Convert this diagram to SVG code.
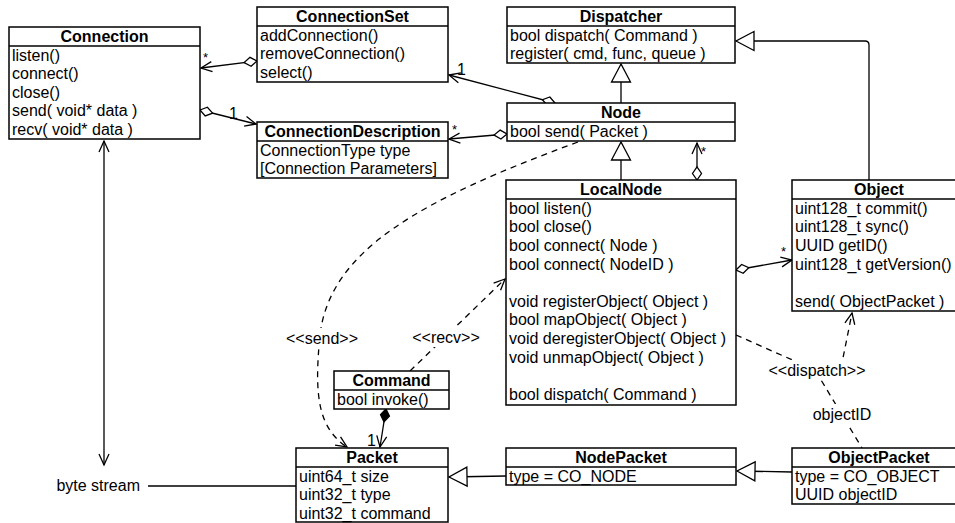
<svg xmlns="http://www.w3.org/2000/svg" width="955" height="523" viewBox="0 0 955 523">
<defs>
<style>
.t{font-family:"Liberation Sans",Arial,Helvetica,sans-serif;font-size:16px;fill:#000}
.h{font-weight:bold;text-anchor:middle}
.m{font-size:13px}
.box rect{fill:#fff;stroke:#000;stroke-width:1.5}
.box line{stroke:#000;stroke-width:1.5}
.c{stroke:#000;stroke-width:1.3;fill:none}
.d{stroke-dasharray:6 5}
.lbl{fill:#fff;stroke:none}
</style>
<marker id="arr" markerUnits="userSpaceOnUse" markerWidth="14" markerHeight="14" viewBox="-12 -7 14 14" refX="0" refY="0" orient="auto-start-reverse">
<path d="M-11,-5 L0,0 L-11,5" fill="none" stroke="#000" stroke-width="1.3"/>
</marker>
<marker id="tri" markerUnits="userSpaceOnUse" markerWidth="22" markerHeight="22" viewBox="-20 -11 22 22" refX="0" refY="0" orient="auto">
<polygon points="0,0 -18,-9.5 -18,9.5" fill="#fff" stroke="#000" stroke-width="1.3"/>
</marker>
<marker id="dia" markerUnits="userSpaceOnUse" markerWidth="16" markerHeight="12" viewBox="-1 -6 16 12" refX="0" refY="0" orient="auto">
<polygon points="0,0 6.5,-4.5 13,0 6.5,4.5" fill="#fff" stroke="#000" stroke-width="1.3"/>
</marker>
<marker id="fdia" markerUnits="userSpaceOnUse" markerWidth="16" markerHeight="12" viewBox="-1 -6 16 12" refX="0" refY="0" orient="auto">
<polygon points="0,0 6.5,-4.5 13,0 6.5,4.5" fill="#000" stroke="#000" stroke-width="1.3"/>
</marker>
</defs>
<rect width="955" height="523" fill="#fff"/>

<g id="connectors">
<path class="c" d="M257,61 L201,68" marker-start="url(#dia)" marker-end="url(#arr)"/>
<path class="c" d="M200,110 L256,124" marker-start="url(#dia)" marker-end="url(#arr)"/>
<path class="c" d="M555,103 L449,75" marker-start="url(#dia)" marker-end="url(#arr)"/>
<path class="c" d="M507,134 L449,139" marker-start="url(#dia)" marker-end="url(#arr)"/>
<path class="c" d="M697,180 L697,143" marker-start="url(#dia)" marker-end="url(#arr)"/>
<path class="c" d="M736,270 L792,260" marker-start="url(#dia)" marker-end="url(#arr)"/>
<path class="c" d="M621,103 L621,64" marker-end="url(#tri)"/>
<path class="c" d="M621,180 L621,142" marker-end="url(#tri)"/>
<path class="c" d="M869,180 L869,45 Q869,41 865,41 L736,41" marker-end="url(#tri)"/>
<path class="c" d="M506,476 L449,477" marker-end="url(#tri)"/>
<path class="c" d="M792,472 L737,471" marker-end="url(#tri)"/>
<path class="c" d="M104,141 L104,465" marker-start="url(#arr)" marker-end="url(#arr)"/>
<path class="c" d="M148,486 L296,486"/>
<path class="c" d="M386,409 L380,447" marker-start="url(#fdia)" marker-end="url(#arr)"/>
<path class="c d" d="M578,142 C420,200 330,250 320,335 C314,395 318,428 347,447" marker-end="url(#arr)"/>
<path class="c d" d="M410,371 L505,279" marker-end="url(#arr)"/>
<path class="c d" d="M736,335 L815,370 L862,448"/>
<path class="c d" d="M841,368 L852,313" marker-end="url(#arr)"/>
<rect class="lbl" x="284" y="328" width="76" height="20"/>
<text class="t" x="322" y="344" text-anchor="middle">&lt;&lt;send&gt;&gt;</text>
<rect class="lbl" x="410" y="327" width="72" height="20"/>
<text class="t" x="446" y="343" text-anchor="middle">&lt;&lt;recv&gt;&gt;</text>
<rect class="lbl" x="766" y="360" width="103" height="20"/>
<text class="t" x="817" y="376" text-anchor="middle">&lt;&lt;dispatch&gt;&gt;</text>
<rect class="lbl" x="811" y="404" width="63" height="20"/>
<text class="t" x="842" y="420" text-anchor="middle">objectID</text>
<text class="t" x="140" y="491" text-anchor="end">byte stream</text>
<text class="t m" x="203" y="62">*</text>
<text class="t" x="229" y="119">1</text>
<text class="t" x="457" y="75">1</text>
<text class="t m" x="452" y="134">*</text>
<text class="t m" x="701" y="156">*</text>
<text class="t m" x="781" y="256">*</text>
<text class="t" x="367" y="446">1</text>
</g>

<g id="Connection" class="box">
<rect x="9" y="27" width="191" height="112"/>
<line x1="9" y1="46" x2="200" y2="46"/>
<text class="t h" x="104.5" y="42">Connection</text>
<text class="t" x="12" y="61">listen()</text>
<text class="t" x="12" y="79">connect()</text>
<text class="t" x="12" y="98">close()</text>
<text class="t" x="12" y="116">send( void* data )</text>
<text class="t" x="12" y="135">recv( void* data )</text>
</g>

<g id="ConnectionSet" class="box">
<rect x="257" y="7" width="191" height="75"/>
<line x1="257" y1="26" x2="448" y2="26"/>
<text class="t h" x="352.5" y="22">ConnectionSet</text>
<text class="t" x="260" y="41">addConnection()</text>
<text class="t" x="260" y="59">removeConnection()</text>
<text class="t" x="260" y="78">select()</text>
</g>

<g id="ConnectionDescription" class="box">
<rect x="257" y="122" width="191" height="56"/>
<line x1="257" y1="141" x2="448" y2="141"/>
<text class="t h" x="352.5" y="137">ConnectionDescription</text>
<text class="t" x="260" y="156">ConnectionType type</text>
<text class="t" x="260" y="174">[Connection Parameters]</text>
</g>

<g id="Dispatcher" class="box">
<rect x="507" y="7" width="228" height="56"/>
<line x1="507" y1="26" x2="735" y2="26"/>
<text class="t h" x="621" y="22">Dispatcher</text>
<text class="t" x="510" y="41">bool dispatch( Command )</text>
<text class="t" x="510" y="59">register( cmd, func, queue )</text>
</g>

<g id="Node" class="box">
<rect x="507" y="103" width="228" height="38"/>
<line x1="507" y1="122" x2="735" y2="122"/>
<text class="t h" x="621" y="118">Node</text>
<text class="t" x="510" y="137">bool send( Packet )</text>
</g>

<g id="LocalNode" class="box">
<rect x="506" y="180" width="230" height="225"/>
<line x1="506" y1="199" x2="736" y2="199"/>
<text class="t h" x="621" y="195">LocalNode</text>
<text class="t" x="509" y="214">bool listen()</text>
<text class="t" x="509" y="232">bool close()</text>
<text class="t" x="509" y="251">bool connect( Node )</text>
<text class="t" x="509" y="270">bool connect( NodeID )</text>
<text class="t" x="509" y="307">void registerObject( Object )</text>
<text class="t" x="509" y="325">bool mapObject( Object )</text>
<text class="t" x="509" y="344">void deregisterObject( Object )</text>
<text class="t" x="509" y="363">void unmapObject( Object )</text>
<text class="t" x="509" y="400">bool dispatch( Command )</text>
</g>

<g id="Object" class="box">
<rect x="792" y="180" width="174" height="131"/>
<line x1="792" y1="199" x2="966" y2="199"/>
<text class="t h" x="879" y="195">Object</text>
<text class="t" x="795" y="214">uint128_t commit()</text>
<text class="t" x="795" y="232">uint128_t sync()</text>
<text class="t" x="795" y="251">UUID getID()</text>
<text class="t" x="795" y="270">uint128_t getVersion()</text>
<text class="t" x="795" y="307">send( ObjectPacket )</text>
</g>

<g id="Command" class="box">
<rect x="334" y="371" width="115" height="38"/>
<line x1="334" y1="390" x2="449" y2="390"/>
<text class="t h" x="391.5" y="386">Command</text>
<text class="t" x="337" y="405">bool invoke()</text>
</g>

<g id="Packet" class="box">
<rect x="296" y="448" width="152" height="74"/>
<line x1="296" y1="467" x2="448" y2="467"/>
<text class="t h" x="372" y="463">Packet</text>
<text class="t" x="299" y="482">uint64_t size</text>
<text class="t" x="299" y="500">uint32_t type</text>
<text class="t" x="299" y="519">uint32_t command</text>
</g>

<g id="NodePacket" class="box">
<rect x="506" y="448" width="230" height="37"/>
<line x1="506" y1="467" x2="736" y2="467"/>
<text class="t h" x="621" y="463">NodePacket</text>
<text class="t" x="509" y="482">type = CO_NODE</text>
</g>

<g id="ObjectPacket" class="box">
<rect x="792" y="448" width="174" height="56"/>
<line x1="792" y1="467" x2="966" y2="467"/>
<text class="t h" x="879" y="463">ObjectPacket</text>
<text class="t" x="795" y="482">type = CO_OBJECT</text>
<text class="t" x="795" y="500">UUID objectID</text>
</g>
</svg>
